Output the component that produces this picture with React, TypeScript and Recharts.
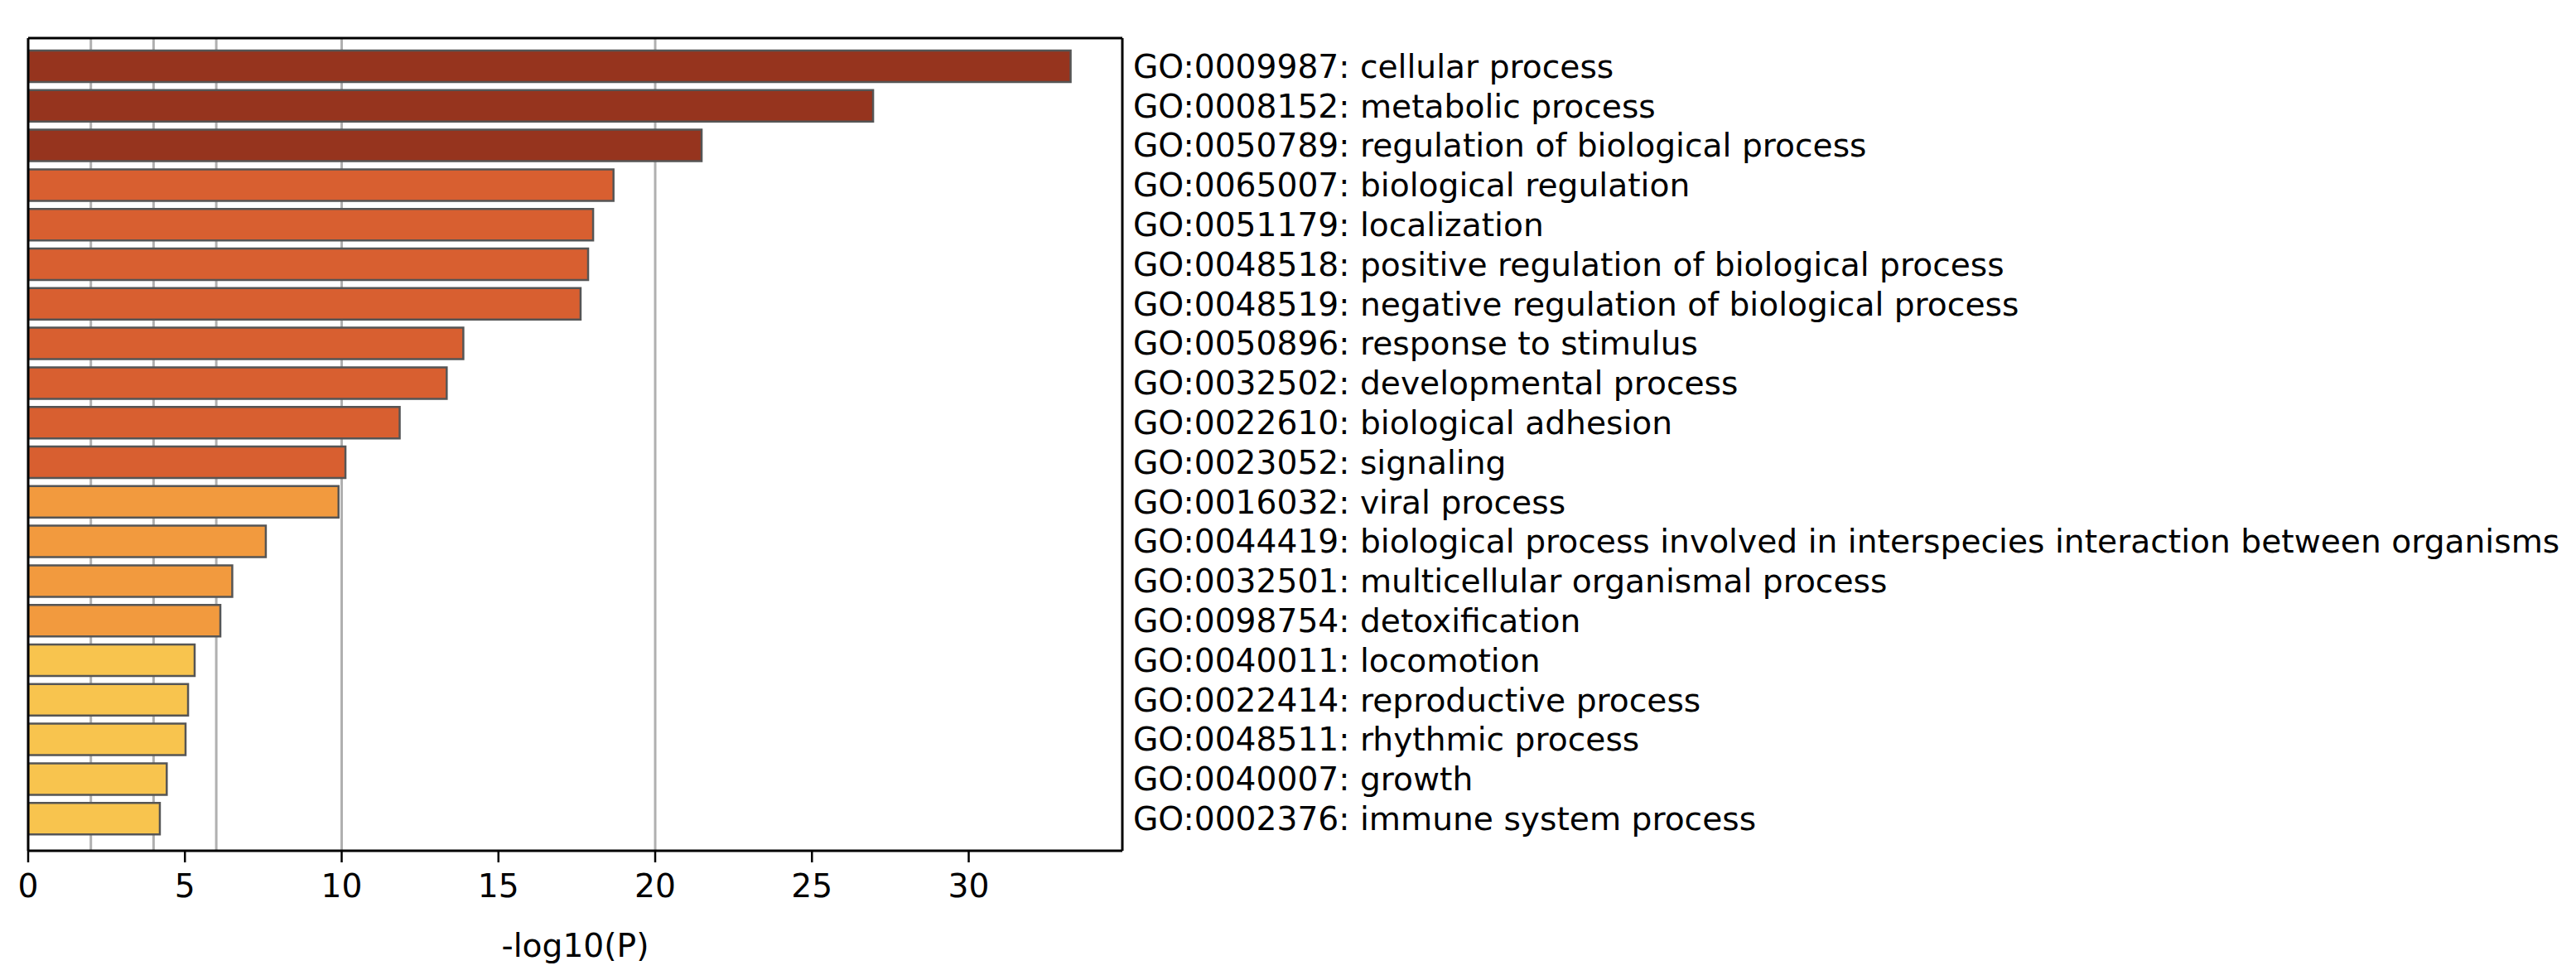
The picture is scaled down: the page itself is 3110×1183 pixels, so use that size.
import React from 'react';
import { BarChart, Bar, XAxis, YAxis, CartesianGrid, Cell } from 'recharts';

// GO terms, top to bottom
const terms = [
  'GO:0009987: cellular process',
  'GO:0008152: metabolic process',
  'GO:0050789: regulation of biological process',
  'GO:0065007: biological regulation',
  'GO:0051179: localization',
  'GO:0048518: positive regulation of biological process',
  'GO:0048519: negative regulation of biological process',
  'GO:0050896: response to stimulus',
  'GO:0032502: developmental process',
  'GO:0022610: biological adhesion',
  'GO:0023052: signaling',
  'GO:0016032: viral process',
  'GO:0044419: biological process involved in interspecies interaction between organisms',
  'GO:0032501: multicellular organismal process',
  'GO:0098754: detoxification',
  'GO:0040011: locomotion',
  'GO:0022414: reproductive process',
  'GO:0048511: rhythmic process',
  'GO:0040007: growth',
  'GO:0002376: immune system process',
];

// -log10(P) per term
const logP = [
  33.25, 26.95, 21.48, 18.67, 18.02, 17.86, 17.62, 13.88, 13.35, 11.85,
  10.12, 9.9, 7.58, 6.51, 6.13, 5.31, 5.1, 5.02, 4.42, 4.2,
];

const xTicks = [0, 5, 10, 15, 20, 25, 30];
const gridValues = [2, 4, 6, 10, 20];
const xLabel = '-log10(P)';

const chartData = terms.map((name, i) => ({ name, value: logP[i] }));

// colour buckets follow the grid cut-offs
const barColor = (v: number) => {
  if (v > 20) return '#96341e';
  if (v > 10) return '#d85f30';
  if (v > 6) return '#f29a3e';
  return '#f8c44e';
};

const FONT = 'DejaVu Sans';
const X_DOMAIN: [number, number] = [0, 34.9];
const SPINE = { stroke: '#000', strokeWidth: 3 };

export default function App() {
  return (
    <div style={{ width: 3110, height: 1183, background: '#fff', fontFamily: FONT }}>
      <style>{'body{margin:0}'}</style>
      <BarChart
        width={3110}
        height={1183}
        data={chartData}
        layout="vertical"
        margin={{ top: 45, right: 0, bottom: 0, left: 33 }}
        barSize={38}
      >
        <CartesianGrid
          horizontal={false}
          verticalValues={gridValues}
          stroke="#b0b0b0"
          strokeWidth={3}
          xAxisId="bottom"
          yAxisId="labels"
        />
        <XAxis
          xAxisId="bottom"
          type="number"
          domain={X_DOMAIN}
          ticks={xTicks}
          interval={0}
          allowDataOverflow
          height={156}
          axisLine={SPINE}
          tickLine={{ stroke: '#000', strokeWidth: 2.5 }}
          tickSize={14}
          tickMargin={14}
          tick={{ fontSize: 39.2, fill: '#000', fontFamily: FONT }}
          label={{ value: xLabel, position: 'insideBottom', offset: 28, fontSize: 39.2, fill: '#000', fontFamily: FONT }}
        />
        {/* top + left axes only draw the frame */}
        <XAxis
          xAxisId="top"
          orientation="top"
          type="number"
          domain={X_DOMAIN}
          allowDataOverflow
          height={1}
          tick={false}
          tickLine={false}
          axisLine={SPINE}
        />
        <YAxis
          yAxisId="frame"
          orientation="left"
          type="category"
          dataKey="name"
          width={1}
          tick={false}
          tickLine={false}
          axisLine={SPINE}
        />
        <YAxis
          yAxisId="labels"
          orientation="right"
          type="category"
          dataKey="name"
          width={1755}
          interval={0}
          padding={{ top: 10, bottom: 15 }}
          tickLine={false}
          tickSize={0}
          tickMargin={13}
          axisLine={SPINE}
          tick={{ fontSize: 39.2, fill: '#000', fontFamily: FONT }}
        />
        <Bar
          dataKey="value"
          xAxisId="top"
          yAxisId="frame"
          fill="none"
          stroke="none"
          legendType="none"
          isAnimationActive={false}
        />
        <Bar
          dataKey="value"
          xAxisId="bottom"
          yAxisId="labels"
          stroke="#555555"
          strokeWidth={2.5}
          isAnimationActive={false}
        >
          {chartData.map((d, i) => (
            <Cell key={i} fill={barColor(d.value)} />
          ))}
        </Bar>
      </BarChart>
    </div>
  );
}
